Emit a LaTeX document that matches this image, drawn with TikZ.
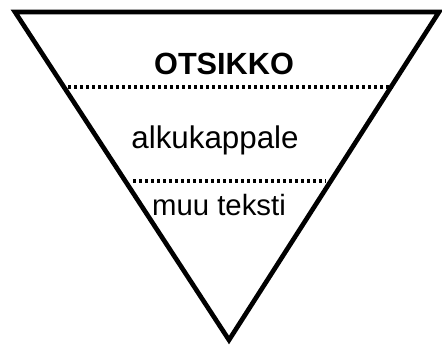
\documentclass[tikz,border=0pt]{standalone}
\usepackage{fontspec}
\setmainfont{Liberation Sans}
\usepackage{tikz}

\tikzset{
  funnel/.style={line width=3.5pt, line join=miter},
  divider/.style={line width=2.6pt, dash pattern=on 2.4pt off 2.1pt},
  textline/.style={anchor=base, inner sep=0pt}
}

\begin{document}
\begin{tikzpicture}[x=0.75pt, y=-0.75pt]
    \useasboundingbox (0,0) rectangle (442,349);
    % Inverted triangle
    \draw[funnel] (15,12) -- (439,12) -- (229,340) -- cycle;
    % Heading
    \node[textline, font=\fontsize{23}{26}\selectfont\bfseries] (otsikko) at (224,75) {OTSIKKO};
    % First divider
    \coordinate (d1l) at (62,87);
    \coordinate (d1r) at (393,87);
    \draw[divider] (d1l) -- (d1r);
    % Lead paragraph
    \node[textline, font=\fontsize{23.5}{26}\selectfont] (alku) at (215,148) {alkukappale};
    % Second divider
    \coordinate (d2l) at (133,181);
    \coordinate (d2r) at (326,181);
    \draw[divider] (d2l) -- (d2r);
    % Rest of the text
    \node[textline, font=\fontsize{22}{26}\selectfont] (muu) at (219,215) {muu teksti};
\end{tikzpicture}
\end{document}
